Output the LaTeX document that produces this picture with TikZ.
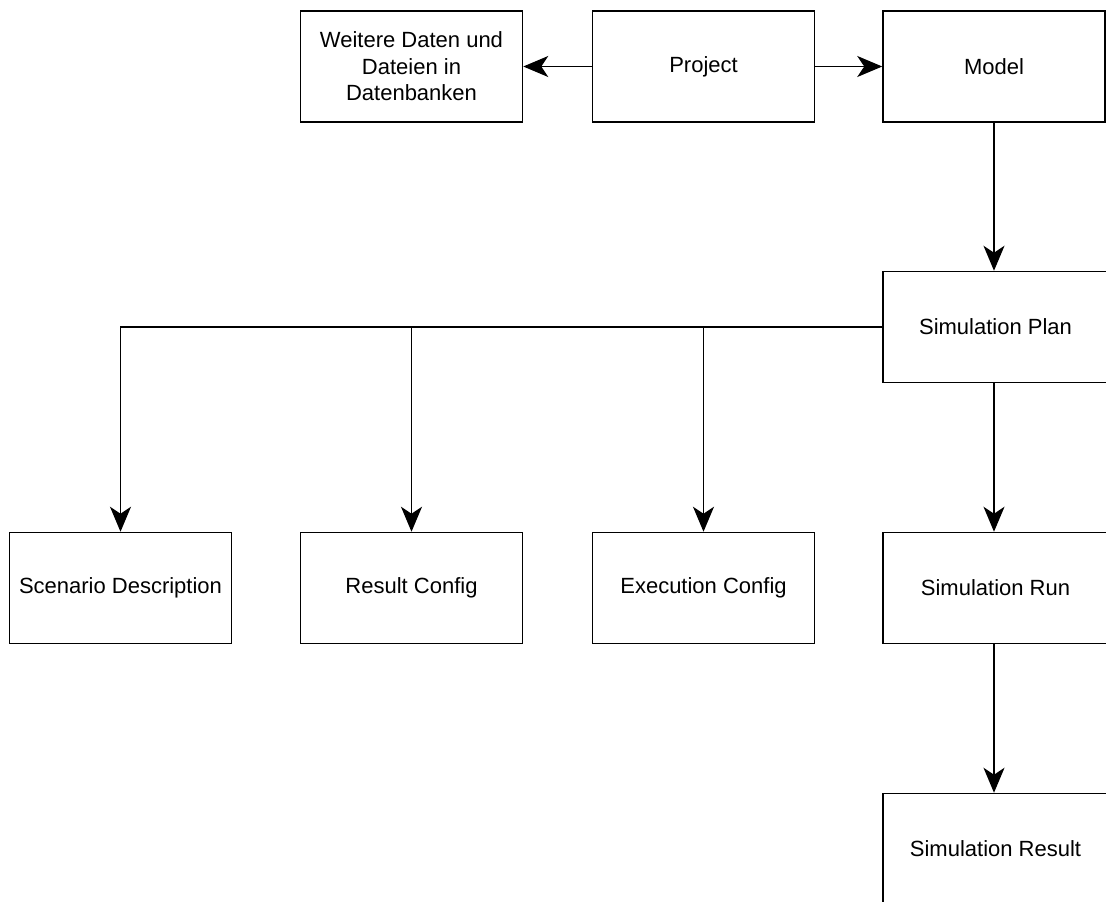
\documentclass[tikz,border=0pt]{standalone}
\usepackage{fontspec}
\setmainfont{Liberation Sans}
\usetikzlibrary{arrows.meta}
\tikzset{
  box/.style={draw, line width=1.5pt, minimum width=222pt, minimum height=111pt,
    inner sep=0pt, align=center, font=\fontsize{22}{26.5}\selectfont},
  link/.style={line width=1.6pt, -{Stealth[length=25pt,width=21pt,inset=7pt]}}
}
\begin{document}
\begin{tikzpicture}[x=1pt,y=-1pt]
      \useasboundingbox (0,0) rectangle (1106,902);
      \clip (0,0) rectangle (1106,902);
      \draw
        (411.5,66.5) node[box] (weitere){Weitere Daten und\\Dateien in\\Datenbanken}
        (703.5,66.5) node[box] (project){Project}
        (994,66.5) node[box] (model){Model}
        (995.5,327) node[box, minimum width=225pt] (plan){Simulation Plan}
        (120.5,588) node[box] (scenario){Scenario Description}
        (411.5,588) node[box] (resultcfg){Result Config}
        (703.5,588) node[box] (execcfg){Execution Config}
        (995.5,588) node[box, minimum width=225pt] (run){Simulation Run}
        (995.5,849) node[box, minimum width=225pt] (simresult){Simulation Result};
      \begin{scope}[link]
        \draw (project) to (weitere);
        \draw (project) to (model);
        \draw (model.south) to (model.south |- plan.north);
        \draw (model.south |- plan.south) to (model.south |- run.north);
        \draw (model.south |- run.south) to (model.south |- simresult.north);
        \draw (plan.west) -| (scenario.north);
        \draw (plan.west) -| (resultcfg.north);
        \draw (plan.west) -| (execcfg.north);
      \end{scope}
    \end{tikzpicture}
\end{document}
